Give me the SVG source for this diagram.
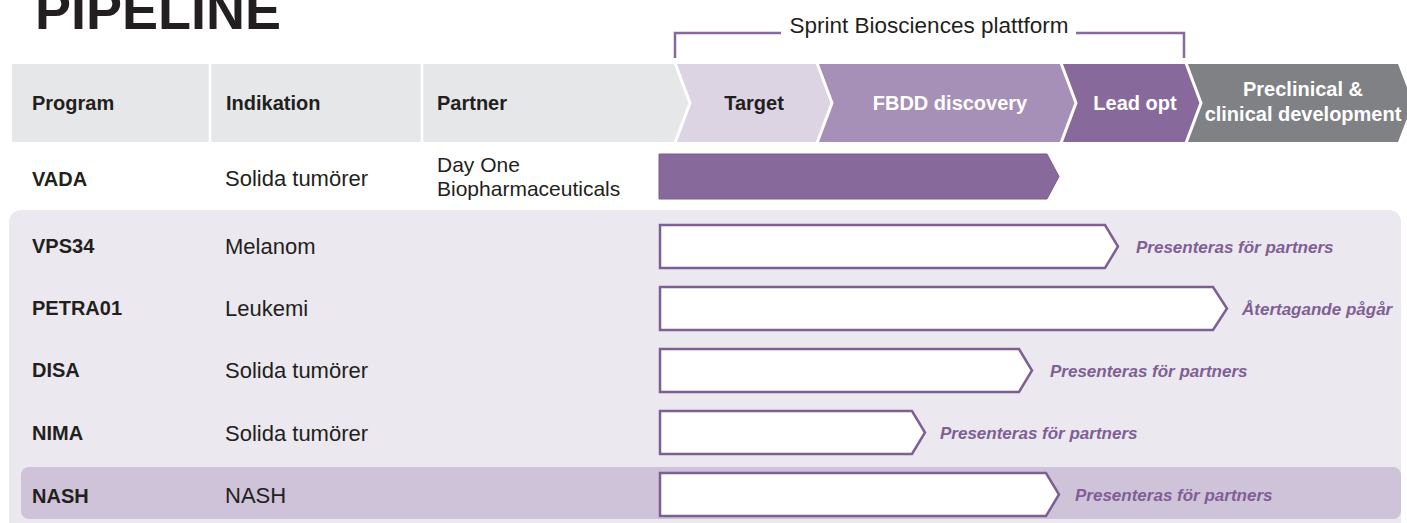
<svg xmlns="http://www.w3.org/2000/svg" width="1407" height="523" viewBox="0 0 1407 523">
<style>
  text { font-family: "Liberation Sans", Arial, sans-serif; }
  .title { font-size: 54px; font-weight: bold; fill: #231F20; }
  .hdr { font-size: 20px; font-weight: bold; fill: #231F20; }
  .hdrw { font-size: 20px; font-weight: bold; fill: #FFFFFF; text-anchor: middle; }
  .prog { font-size: 20px; font-weight: bold; fill: #231F20; }
  .body { font-size: 22px; fill: #231F20; }
  .partner { font-size: 21px; fill: #231F20; }
  .status { font-size: 17px; font-weight: bold; font-style: italic; fill: #7F5F95; }
  .plat { font-size: 22.5px; fill: #231F20; text-anchor: middle; }
  .sep { fill: none; stroke: #FFFFFF; stroke-width: 3; }
  .box { fill: #FFFFFF; stroke: #7E5F93; stroke-width: 2.5; stroke-linejoin: miter; }
  .brk { fill: none; stroke: #876A9B; stroke-width: 2.5; }
</style>

<text class="title" x="35" y="29">PIPELINE</text>

<g id="connectors">
  <polyline class="brk" points="675,58 675,33 781,33"/>
  <polyline class="brk" points="1076,33 1184,33 1184,58"/>
  <text class="plat" x="929" y="33">Sprint Biosciences plattform</text>
</g>

<g id="header">
  <polygon points="12,64 675,64 690,103 675,142 12,142" fill="#E6E7E8"/>
  <line x1="210" y1="64" x2="210" y2="142" stroke="#FFFFFF" stroke-width="2.5"/>
  <line x1="422" y1="64" x2="422" y2="142" stroke="#FFFFFF" stroke-width="2.5"/>
  <text class="hdr" x="32" y="110">Program</text>
  <text class="hdr" x="226" y="110">Indikation</text>
  <text class="hdr" x="437" y="110">Partner</text>
</g>

<g id="stage-target">
  <polygon points="675,64 817,64 832,103 817,142 675,142 690,103" fill="#DCD3E3"/>
  <text class="hdr" x="754" y="110" text-anchor="middle">Target</text>
</g>
<g id="stage-fbdd">
  <polygon points="817,64 1061,64 1076,103 1061,142 817,142 832,103" fill="#A690B8"/>
  <text class="hdrw" x="950" y="110">FBDD discovery</text>
</g>
<g id="stage-leadopt">
  <polygon points="1061,64 1186,64 1201,103 1186,142 1061,142 1076,103" fill="#876A9B"/>
  <text class="hdrw" x="1135" y="110">Lead opt</text>
</g>
<g id="stage-preclinical">
  <polygon points="1186,64 1398,64 1413,103 1398,142 1186,142 1201,103" fill="#808184"/>
  <text class="hdrw" x="1303" y="96">Preclinical &amp;</text>
  <text class="hdrw" x="1303" y="121">clinical development</text>
</g>
<g id="stage-separators">
  <polyline class="sep" points="675,63 690,103 675,143"/>
  <polyline class="sep" points="817,63 832,103 817,143"/>
  <polyline class="sep" points="1061,63 1076,103 1061,143"/>
  <polyline class="sep" points="1186,63 1201,103 1186,143"/>
</g>

<g id="row-vada">
  <polygon points="659,154 1047,154 1059,176.5 1047,199 659,199" fill="#876A9B" stroke="#7A5D8E" stroke-width="1"/>
  <text class="prog" x="32" y="186">VADA</text>
  <text class="body" x="225" y="186">Solida tumörer</text>
  <text class="partner" x="437" y="172">Day One</text>
  <text class="partner" x="437" y="196">Biopharmaceuticals</text>
</g>

<g id="panel">
  <rect x="9" y="210" width="1392" height="330" rx="12" ry="12" fill="#EBE8EF"/>
  <rect x="21" y="467" width="1380" height="52" rx="8" ry="8" fill="#CFC3DA"/>
</g>

<g id="row-vps34">
  <polygon class="box" points="660,225 1105,225 1118,246.5 1105,268 660,268"/>
  <text class="prog" x="32" y="253">VPS34</text>
  <text class="body" x="225" y="254">Melanom</text>
  <text class="status" x="1136" y="253">Presenteras för partners</text>
</g>

<g id="row-petra01">
  <polygon class="box" points="660,287 1213,287 1227,308.5 1213,330 660,330"/>
  <text class="prog" x="32" y="315">PETRA01</text>
  <text class="body" x="225" y="316">Leukemi</text>
  <text class="status" x="1242" y="315">Återtagande pågår</text>
</g>

<g id="row-disa">
  <polygon class="box" points="660,349 1019,349 1032,370.5 1019,392 660,392"/>
  <text class="prog" x="32" y="377">DISA</text>
  <text class="body" x="225" y="378">Solida tumörer</text>
  <text class="status" x="1050" y="377">Presenteras för partners</text>
</g>

<g id="row-nima">
  <polygon class="box" points="660,411 912,411 925,432.5 912,454 660,454"/>
  <text class="prog" x="32" y="440">NIMA</text>
  <text class="body" x="225" y="441">Solida tumörer</text>
  <text class="status" x="940" y="439">Presenteras för partners</text>
</g>

<g id="row-nash">
  <polygon class="box" points="660,473 1046,473 1059,494.5 1046,516 660,516"/>
  <text class="prog" x="32" y="503">NASH</text>
  <text class="body" x="225" y="503">NASH</text>
  <text class="status" x="1075" y="501">Presenteras för partners</text>
</g>
</svg>
